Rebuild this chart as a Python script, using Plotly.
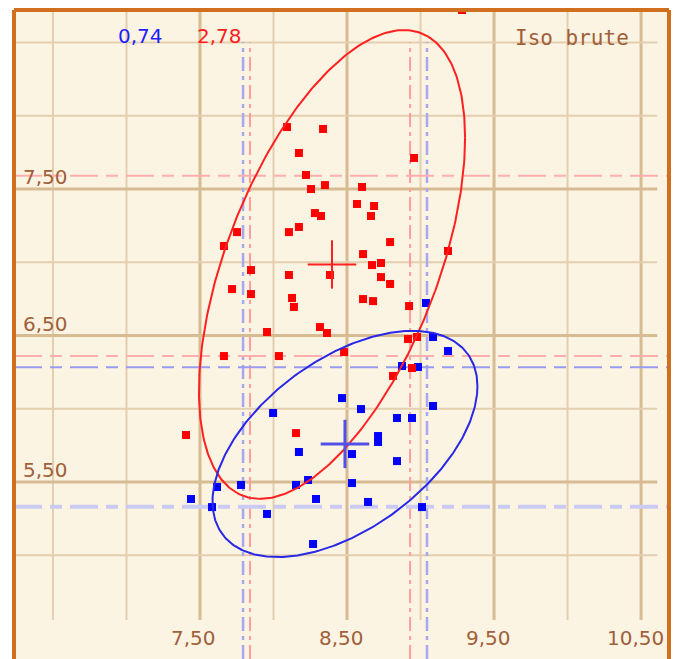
import numpy as np
import plotly.graph_objects as go

# ---------------- data ----------------
red_x = [8.092, 8.337, 8.173, 8.221, 8.255, 8.350, 8.282, 8.323, 8.173, 8.105,
         7.752, 7.663, 8.956, 8.602, 8.568, 8.684, 8.663, 8.793, 8.609, 9.187,
         8.670, 8.731, 8.731, 8.793, 8.609, 8.677, 8.922, 8.384, 7.847, 7.718,
         7.847, 8.105, 8.126, 8.139, 7.956, 8.316, 8.364, 7.663, 8.037, 8.915,
         8.976, 8.480, 8.942, 8.813, 7.405, 8.153, 9.282]
red_y = [7.923, 7.910, 7.746, 7.596, 7.500, 7.527, 7.336, 7.316, 7.241, 7.206,
         7.206, 7.111, 7.712, 7.514, 7.398, 7.384, 7.316, 7.138, 7.056, 7.077,
         6.981, 6.995, 6.899, 6.852, 6.749, 6.735, 6.701, 6.913, 6.947, 6.817,
         6.783, 6.913, 6.756, 6.695, 6.524, 6.558, 6.517, 6.360, 6.360, 6.476,
         6.490, 6.387, 6.278, 6.224, 5.821, 5.834, 8.722]

blue_x = [9.037, 9.085, 9.187, 8.874, 8.983, 8.466, 7.997, 8.595, 8.840, 8.942,
          9.085, 8.711, 8.711, 8.173, 8.534, 8.840, 7.616, 7.779, 8.153, 8.235,
          8.534, 7.439, 7.582, 7.956, 8.289, 8.643, 9.010, 8.269]
blue_y = [6.722, 6.490, 6.394, 6.292, 6.285, 6.073, 5.971, 5.998, 5.937, 5.937,
          6.019, 5.814, 5.773, 5.705, 5.691, 5.643, 5.466, 5.480, 5.480, 5.514,
          5.493, 5.384, 5.329, 5.282, 5.384, 5.364, 5.329, 5.077]

# ellipse statistics: centre, half-extent in x / y, correlation
red_center = [8.398, 6.985]
red_extent = [0.905, 1.600]
red_rho = 0.54
blue_center = [8.486, 5.760]
blue_extent = [0.901, 0.772]
blue_rho = 0.51

# reference (dash-dot) lines
red_vlines = [7.840, 8.929]
blue_vlines = [7.793, 9.044]
red_hlines = [7.591, 6.360]
blue_hlines = [6.283, 5.331]

# labels
red_stat_label = "2,78"
blue_stat_label = "0,74"
title_label = "Iso brute"

x_grid = [6.5, 7.0, 7.5, 8.0, 8.5, 9.0, 9.5, 10.0, 10.5]
y_grid = [5.0, 5.5, 6.0, 6.5, 7.0, 7.5, 8.0, 8.5]
x_tick_vals = [7.5, 8.5, 9.5, 10.5]
x_tick_text = ["7,50", "8,50", "9,50", "10,50"]
y_tick_vals = [7.5, 6.5, 5.5]
y_tick_text = ["7,50", "6,50", "5,50"]

# ---------------- style ----------------
X_RANGE = [6.235, 10.690]
Y_RANGE = [4.292, 8.722]
BG = "#FCF4E3"
BORDER = "#D0701E"
MAJOR = "#D6BB93"
MINOR = "#E3CFAF"
TEXT_BROWN = "#A0603A"
FONT = "DejaVu Sans"
CROSS_ARM = 0.165
GRID_V_BOTTOM = 4.558
GRID_H_RIGHT = 10.61
VLINE_TOP = 8.503

fig = go.Figure()
shapes = []

# grid
for gx in x_grid:
    major = gx in x_tick_vals
    shapes.append(dict(type="line", xref="x", yref="y", x0=gx, x1=gx,
                       y0=GRID_V_BOTTOM, y1=Y_RANGE[1], layer="below",
                       line=dict(color=MAJOR if major else MINOR, width=3 if major else 2)))
for gy in y_grid:
    major = gy in y_tick_vals
    shapes.append(dict(type="line", xref="x", yref="y", x0=X_RANGE[0], x1=GRID_H_RIGHT,
                       y0=gy, y1=gy, layer="below",
                       line=dict(color=MAJOR if major else MINOR, width=3 if major else 2)))

# reference dashed lines
HDASH = "28px,8px,12px,8px"
VDASH = "14px,5px,4px,5px"
for v in red_vlines:
    shapes.append(dict(type="line", xref="x", yref="y", x0=v, x1=v, y0=Y_RANGE[0], y1=VLINE_TOP,
                       layer="below", line=dict(color="#FF9C9C", width=2, dash=VDASH)))
for v in blue_vlines:
    shapes.append(dict(type="line", xref="x", yref="y", x0=v, x1=v, y0=Y_RANGE[0], y1=VLINE_TOP,
                       layer="below", line=dict(color="#A8A8F2", width=2.5, dash=VDASH)))
for h in red_hlines:
    shapes.append(dict(type="line", xref="x", yref="y", x0=X_RANGE[0], x1=X_RANGE[1], y0=h, y1=h,
                       layer="below", line=dict(color="#FFADAD", width=2, dash=HDASH)))
blue_h_styles = [dict(color="#9A9AF0", width=2), dict(color="#CACAF4", width=4)]
for h, st in zip(blue_hlines, blue_h_styles):
    shapes.append(dict(type="line", xref="x", yref="y", x0=X_RANGE[0], x1=X_RANGE[1], y0=h, y1=h,
                       layer="below", line=dict(dash=HDASH, **st)))

# border (left, top, right)
for (x0, y0, x1, y1) in [(0, -0.05, 0, 1), (0, 1, 1, 1), (1, -0.05, 1, 1)]:
    shapes.append(dict(type="line", xref="paper", yref="paper", x0=x0, y0=y0, x1=x1, y1=y1,
                       layer="above", line=dict(color=BORDER, width=4)))


def ellipse(center, extent, rho):
    t = np.linspace(0, 2 * np.pi, 361)
    phi = np.arccos(rho)
    return center[0] + extent[0] * np.cos(t), center[1] + extent[1] * np.cos(t - phi)


# points
fig.add_trace(go.Scatter(x=blue_x, y=blue_y, mode="markers",
                         marker=dict(symbol="square", size=8, color="#0000FF"), hoverinfo="skip"))
fig.add_trace(go.Scatter(x=red_x, y=red_y, mode="markers",
                         marker=dict(symbol="square", size=8, color="#FF0000"), hoverinfo="skip"))

# ellipses
ex, ey = ellipse(red_center, red_extent, red_rho)
fig.add_trace(go.Scatter(x=ex, y=ey, mode="lines", line=dict(color="#FF2020", width=2), hoverinfo="skip"))
ex, ey = ellipse(blue_center, blue_extent, blue_rho)
fig.add_trace(go.Scatter(x=ex, y=ey, mode="lines", line=dict(color="#2828E6", width=2), hoverinfo="skip"))

# centre crosses
for c, col, w in [(red_center, "#FF2020", 2), (blue_center, "#5050E8", 3)]:
    fig.add_trace(go.Scatter(
        x=[c[0] - CROSS_ARM, c[0] + CROSS_ARM, None, c[0], c[0]],
        y=[c[1], c[1], None, c[1] - CROSS_ARM, c[1] + CROSS_ARM],
        mode="lines", line=dict(color=col, width=w), hoverinfo="skip"))

annotations = []
for v, t in zip(x_tick_vals, x_tick_text):
    annotations.append(dict(x=v, y=0.0324, xref="x", yref="paper", text=t, showarrow=False,
                            xshift=-6, xanchor="center", yanchor="middle",
                            font=dict(family=FONT, size=20, color=TEXT_BROWN)))
for v, t in zip(y_tick_vals, y_tick_text):
    annotations.append(dict(x=0.0107, y=v, xref="paper", yref="y", text=t, showarrow=False,
                            yshift=12, xanchor="left", yanchor="middle",
                            font=dict(family=FONT, size=20, color=TEXT_BROWN)))
annotations.append(dict(x=0.1924, y=0.960, xref="paper", yref="paper", text=blue_stat_label,
                        showarrow=False, xanchor="center", yanchor="middle",
                        font=dict(family=FONT, size=20, color="#1E1EFF")))
annotations.append(dict(x=0.3145, y=0.960, xref="paper", yref="paper", text=red_stat_label,
                        showarrow=False, xanchor="center", yanchor="middle",
                        font=dict(family=FONT, size=20, color="#FF1E1E")))
annotations.append(dict(x=0.852, y=0.957, xref="paper", yref="paper", text=title_label,
                        showarrow=False, xanchor="center", yanchor="middle",
                        font=dict(family="DejaVu Sans Mono", size=21, color=TEXT_BROWN)))

# the page body adds an 8px offset, so the figure is 8px smaller and margins compensate
fig.update_layout(
    width=671, height=651,
    margin=dict(l=6, r=10, t=2, b=0, pad=0),
    paper_bgcolor="white", plot_bgcolor=BG,
    showlegend=False,
    shapes=shapes, annotations=annotations,
    xaxis=dict(range=X_RANGE, showgrid=False, zeroline=False, showticklabels=False,
               ticks="", showline=False, fixedrange=True),
    yaxis=dict(range=Y_RANGE, showgrid=False, zeroline=False, showticklabels=False,
               ticks="", showline=False, fixedrange=True),
)

fig.write_html("out.html")
